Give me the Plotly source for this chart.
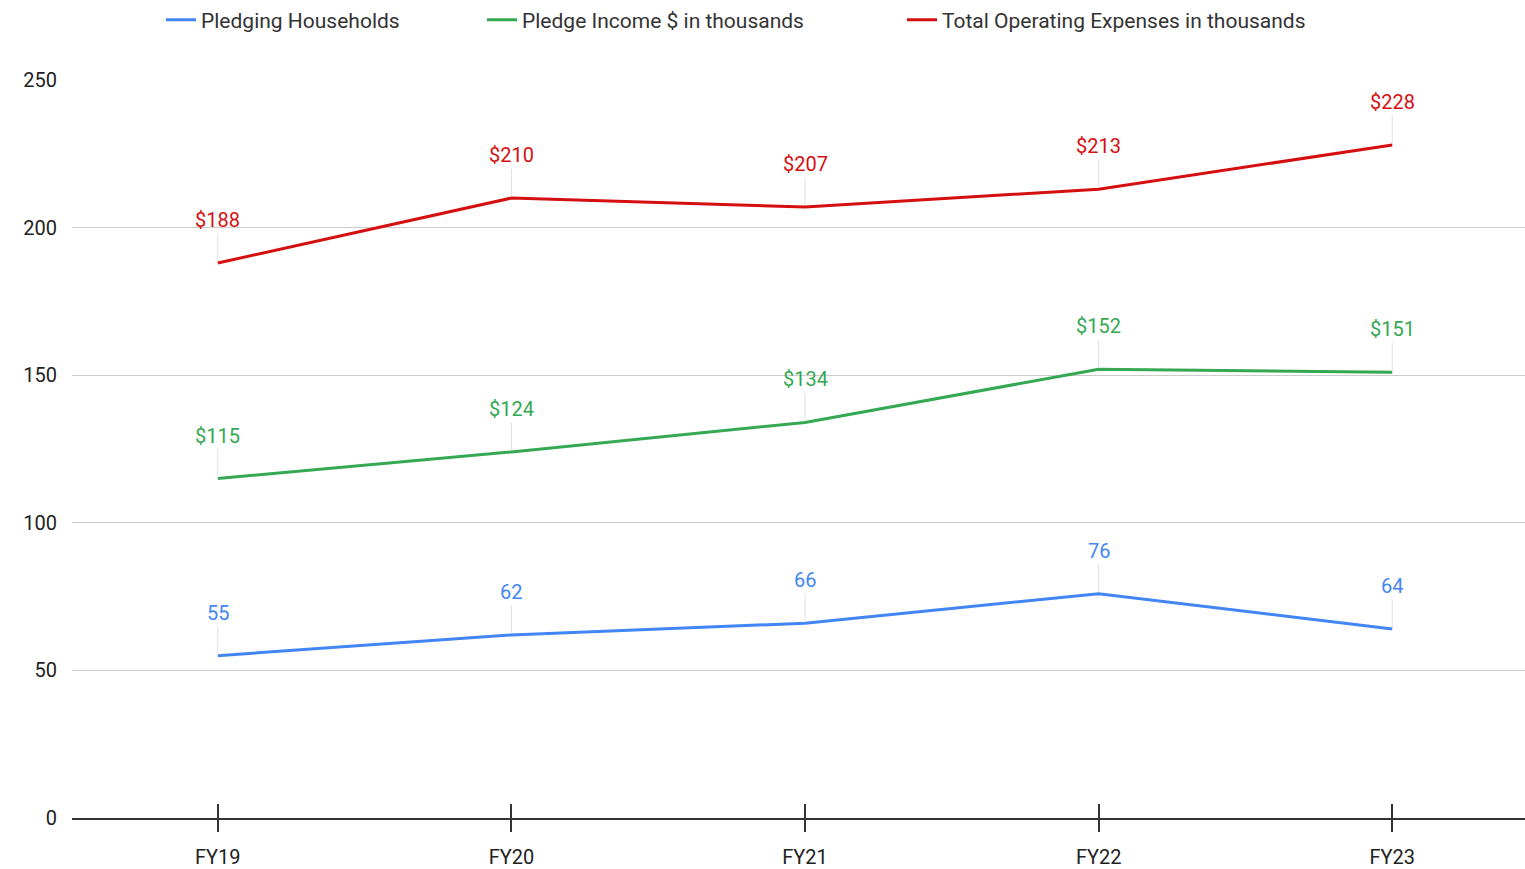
import plotly.graph_objects as go

categories = ["FY19", "FY20", "FY21", "FY22", "FY23"]
households = [55, 62, 66, 76, 64]
pledge_income = [115, 124, 134, 152, 151]
operating_exp = [188, 210, 207, 213, 228]
y_ticks = [0, 50, 100, 150, 200, 250]

series = [
    ("Pledging Households", households, "#4285F4", "{}"),
    ("Pledge Income $ in thousands", pledge_income, "#34A853", "${}"),
    ("Total Operating Expenses in thousands", operating_exp, "#D50F0F", "${}"),
]
legend_ids = ["legend", "legend2", "legend3"]
legend_left_px = [161, 482, 902]

fig = go.Figure()
annotations = []
for (name, vals, color, fmt), lid in zip(series, legend_ids):
    fig.add_trace(go.Scatter(x=list(range(len(categories))), y=vals, name=name, mode="lines",
                             line=dict(color=color, width=3), legend=lid))
    for i, v in enumerate(vals):
        annotations.append(dict(x=i, y=v, xref="x", yref="y", text=fmt.format(v),
                                showarrow=True, arrowhead=0, arrowwidth=1, arrowcolor="#e0e0e0",
                                ax=0, ay=-43, standoff=2,
                                font=dict(family="Roboto", size=20, color=color)))

# invisible trace for secondary axis providing inner ticks
fig.add_trace(go.Scatter(x=[0, 4], y=[None, None], xaxis="x2", showlegend=False, hoverinfo="skip"))

legend_style = {}
for lid, lx in zip(legend_ids, legend_left_px):
    legend_style[lid] = dict(orientation="h", x=lx / 1525, xanchor="left", xref="container",
                             y=0.977, yanchor="middle", yref="container",
                             font=dict(family="Roboto", size=21, color="#333"), itemwidth=30)

xr = [-0.4966, 4.452]
fig.update_layout(
    width=1525, height=869,
    margin=dict(l=72, r=0, t=80, b=51),
    paper_bgcolor="white", plot_bgcolor="white",
    font=dict(family="Roboto", size=20, color="#222"),
    annotations=annotations,
    xaxis=dict(range=xr, tickvals=list(range(len(categories))), ticktext=categories,
               showgrid=False, showline=True, linecolor="#333", linewidth=2,
               ticks="outside", ticklen=12, tickwidth=2, tickcolor="#333",
               ticklabelstandoff=8, automargin=False,
               tickfont=dict(size=20, color="#222"), zeroline=False),
    xaxis2=dict(range=xr, overlaying="x", anchor="y", side="bottom",
                tickvals=list(range(len(categories))), showticklabels=False,
                ticks="inside", ticklen=14, tickwidth=2, tickcolor="#333",
                showgrid=False, showline=False, zeroline=False, automargin=False),
    yaxis=dict(range=[0, 250], tickvals=y_ticks, showgrid=True, gridcolor="#cccccc",
               gridwidth=1, zeroline=False, ticks="", ticklabelstandoff=14,
               automargin=False, tickfont=dict(size=20, color="#222")),
    **legend_style,
)

fig.write_html("out.html", config={"displayModeBar": False},
               post_script="document.body.style.margin='0';document.body.style.padding='0';")
